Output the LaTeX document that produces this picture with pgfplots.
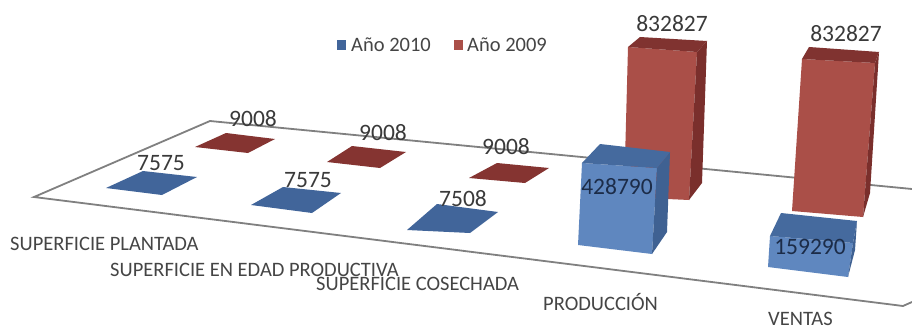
\documentclass[border=0pt]{standalone}
\usepackage{pgfplots}
\pgfplotsset{compat=1.18}
\usepackage{fontspec}
\setmainfont{Carlito}
\definecolor{bfront}{HTML}{5F87BF}
\definecolor{btop}{HTML}{456A9E}
\definecolor{bside}{HTML}{3F6192}
\definecolor{bflat}{HTML}{41659A}
\definecolor{rfront}{HTML}{AA4F48}
\definecolor{rtop}{HTML}{803330}
\definecolor{rside}{HTML}{7A2F2C}
\definecolor{rflat}{HTML}{853431}
\definecolor{floorline}{HTML}{808080}
\definecolor{txt}{HTML}{454545}
\definecolor{lbl}{HTML}{3A3A3A}
\definecolor{navy}{HTML}{1C2C48}
\newcommand{\poly}[2]{\addplot[fill=#1,draw=none,forget plot] coordinates {#2} -- cycle;}
\begin{document}
\begin{tikzpicture}
\begin{axis}[
  scale only axis, width=912pt, height=329pt,
  xmin=0, xmax=912, ymin=0, ymax=329, y dir=reverse,
  enlargelimits=false, hide axis, clip=true]
\poly{white}{(0,0)(912,0)(912,329)(0,329)}
% floor
\addplot[floorline,line width=1.8pt,forget plot] coordinates {(912,189)(210,121)(34,197)(903,306)(912,302)};
% flat red
\poly{rflat}{(195,147)(226,133)(275,139)(248,153)}
\poly{rflat}{(327,162)(352,146)(406,152)(380,168)}
\poly{rflat}{(469,178)(497,163)(549,168)(525,183)}
% flat blue
\poly{bflat}{(106,188)(143,171)(197,177)(162,195)}
\poly{bflat}{(251,205)(283,187)(341,193)(312,213)}
\poly{bflat}{(407,230)(437,204)(498,212)(470,233)}
% red bar production
\poly{rfront}{(628,47)(697,52)(689,200)(624,197)}
\poly{rside}{(697,52)(707,41)(702,183)(689,200)}
\poly{rtop}{(628,47)(640,37)(707,41)(697,52)}
% red bar sales
\poly{rfront}{(802,59)(875,63)(863,217)(792,211)}
\poly{rside}{(875,63)(879,52)(870,193)(863,217)}
\poly{rtop}{(802,59)(809,47)(879,52)(875,63)}
% blue bar production
\poly{bfront}{(582,163)(657,168)(652,254)(578,245)}
\poly{bside}{(657,168)(670,152)(667,232)(652,254)}
\poly{btop}{(582,163)(600,144)(670,152)(657,168)}
% blue bar sales
\poly{bfront}{(770,236)(853,243)(848,277)(768,267)}
\poly{bside}{(853,243)(857,221)(855,250)(848,277)}
\poly{btop}{(770,236)(781,213)(857,221)(853,243)}
% legend
\poly{bflat}{(337,40)(346,40)(346,50)(337,50)}
\poly{rfront}{(454,40)(463,40)(463,50)(454,50)}
\node[anchor=west,inner sep=0pt,font=\fontsize{20.5}{20.5}\selectfont,text=txt] at (axis cs:351,45) {Año 2010};
\node[anchor=west,inner sep=0pt,font=\fontsize{20.5}{20.5}\selectfont,text=txt] at (axis cs:467,45) {Año 2009};
% data labels
\foreach \x/\y/\t in {253/119/9008,383/133/9008,506/147/9008,161/163/7575,308/180/7575,463/199/7508,672/24/832827,846/34/832827}{
  \edef\tmp{\noexpand\node[inner sep=0pt,font=\noexpand\fontsize{23.5}{23.5}\noexpand\selectfont,text=lbl] at (axis cs:\x,\y) {\t};}\tmp
}
\node[inner sep=0pt,font=\fontsize{23.5}{23.5}\selectfont,text=navy] at (axis cs:617,187) {428790};
\node[inner sep=0pt,font=\fontsize{23.5}{23.5}\selectfont,text=navy] at (axis cs:810,247) {159290};
% category labels
\foreach \x/\y/\t in {10/244/SUPERFICIE PLANTADA,110/270/SUPERFICIE EN EDAD PRODUCTIVA,316/284/SUPERFICIE COSECHADA,543/302/PRODUCCIÓN,768/319/VENTAS}{
  \edef\tmp{\noexpand\node[anchor=west,inner sep=0pt,font=\noexpand\fontsize{20.5}{20.5}\noexpand\selectfont,text=txt] at (axis cs:\x,\y) {\t};}\tmp
}
\end{axis}
\end{tikzpicture}
\end{document}
